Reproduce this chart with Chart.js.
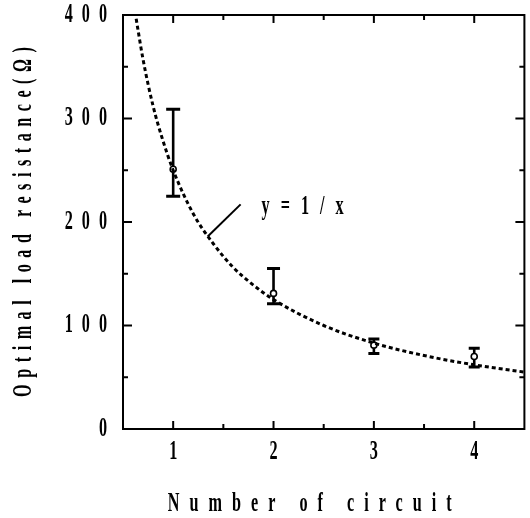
<!DOCTYPE html>
<html><head><meta charset="utf-8">
<script src="https://cdn.jsdelivr.net/npm/chart.js@4"></script>
<style>html,body{margin:0;padding:0;background:#fff}#wrap{width:530px;height:518px}</style>
</head><body><div id="wrap"><canvas id="c"></canvas></div>
<script>
const circuits = [1, 2, 3, 4];
const resistance = [251, 131, 81, 70];
const errLow = [225, 121, 73, 60];
const errHigh = [309, 155, 87, 78];
const fitX = [0.62, 0.7, 0.8, 0.9, 1.0, 1.2, 1.4, 1.6, 1.8, 2.0, 2.5, 3.0, 3.5, 4.0, 4.5];
const fitY = [403, 357, 312, 278, 250, 208, 179, 156, 139, 125, 100, 83, 71, 62, 55];
const xTickLabels = ['1', '2', '3', '4'];
const yTickLabels = ['0', '100', '200', '300', '400'];
const fitLabel = 'y = 1 / x';
const xTitle = 'Number of circuit';
const yTitle = 'Optimal load resistance(Ω)';

const FAM = "'Liberation Serif','DejaVu Serif',serif";
const tickFont = {family: FAM, size: 27, weight: 'bold', lineHeight: 1};
const titleFont = {family: FAM, size: 27, weight: 'bold', lineHeight: 1};

// condensed, letter-spaced typewriter look of the original lettering
const SX = 0.6;
function textStyle(t) {
  if (t === xTitle) return {sp: 10, dx: -14};
  if (t === yTitle) return {sp: 6.5, dx: 0};
  if (t === fitLabel) return {sp: 3.5, dx: 0};
  if (yTickLabels.includes(t) && t.length > 1) return {sp: 9, dx: 0};
  return {sp: 0, dx: 0};
}
function patchCtx(ctx) {
  if (ctx.__patched) return;
  const orig = ctx.fillText;
  ctx.fillText = function (text, x, y) {
    const st = textStyle(String(text));
    const a = this.textAlign;
    const shift = (a === 'right' || a === 'end') ? st.sp : (a === 'center' ? st.sp / 2 : 0);
    this.save();
    this.translate(x + shift + st.dx, y);
    this.scale(SX, 1);
    if (st.sp && 'letterSpacing' in this) this.letterSpacing = (st.sp / SX) + 'px';
    orig.call(this, text, 0, 0);
    this.restore();
  };
  ctx.__patched = true;
}

const overlay = {
  id: 'overlay',
  beforeDraw(chart) { patchCtx(chart.ctx); },
  afterDatasetsDraw(chart) {
    const ctx = chart.ctx, xs = chart.scales.x, ys = chart.scales.y;
    ctx.save();
    ctx.strokeStyle = '#000';
    ctx.lineCap = 'butt';
    const caps = [7, 6.5, 5.5, 5.5];
    circuits.forEach((c, i) => {
      const px = xs.getPixelForValue(c);
      const yl = ys.getPixelForValue(errLow[i]);
      const yh = ys.getPixelForValue(errHigh[i]);
      const yc = ys.getPixelForValue(resistance[i]);
      ctx.lineWidth = 2.6;
      ctx.beginPath();
      ctx.moveTo(px, yh); ctx.lineTo(px, yc - 3);
      ctx.moveTo(px, yc + 3); ctx.lineTo(px, yl);
      ctx.stroke();
      ctx.lineWidth = 3;
      ctx.beginPath();
      ctx.moveTo(px - caps[i], yh); ctx.lineTo(px + caps[i], yh);
      ctx.moveTo(px - caps[i], yl); ctx.lineTo(px + caps[i], yl);
      ctx.stroke();
    });
    ctx.lineWidth = 2;
    ctx.beginPath();
    ctx.moveTo(xs.getPixelForValue(1.344), ys.getPixelForValue(186));
    ctx.lineTo(xs.getPixelForValue(1.672), ys.getPixelForValue(217));
    ctx.stroke();
    ctx.fillStyle = '#000';
    ctx.font = "bold 27px " + FAM;
    ctx.textAlign = 'left';
    ctx.textBaseline = 'middle';
    ctx.fillText(fitLabel, xs.getPixelForValue(1.88), ys.getPixelForValue(214));
    ctx.restore();
  },
  afterDraw(chart) {
    const ctx = chart.ctx, xs = chart.scales.x, ys = chart.scales.y;
    const a = chart.chartArea;
    ctx.save();
    ctx.strokeStyle = '#000';
    ctx.lineWidth = 2;
    ctx.strokeRect(a.left, a.top, a.right - a.left, a.bottom - a.top);
    ctx.beginPath();
    xs.ticks.forEach(t => {
      if (t.value <= xs.min || t.value >= xs.max) return;
      const px = xs.getPixelForValue(t.value);
      const len = Number.isInteger(t.value) ? 8 : 5;
      ctx.moveTo(px, a.bottom); ctx.lineTo(px, a.bottom - len);
      ctx.moveTo(px, a.top); ctx.lineTo(px, a.top + len);
    });
    ys.ticks.forEach(t => {
      if (t.value <= ys.min || t.value >= ys.max) return;
      const py = ys.getPixelForValue(t.value);
      const len = t.value % 100 === 0 ? 9 : 5;
      ctx.moveTo(a.left, py); ctx.lineTo(a.left + len, py);
      ctx.moveTo(a.right, py); ctx.lineTo(a.right - len, py);
    });
    ctx.stroke();
    ctx.restore();
  }
};

new Chart(document.getElementById('c'), {
  type: 'scatter',
  data: {
    datasets: [
      {
        label: 'fit',
        data: fitX.map((x, i) => ({x, y: fitY[i]})),
        showLine: true,
        borderColor: '#000',
        borderWidth: 3,
        borderDash: [4, 3],
        pointRadius: 0,
        cubicInterpolationMode: 'monotone',
        fill: false
      },
      {
        label: 'measured',
        data: circuits.map((x, i) => ({x, y: resistance[i]})),
        pointRadius: 3,
        pointBorderWidth: 1.6,
        pointBorderColor: '#000',
        pointBackgroundColor: '#fff',
        showLine: false
      }
    ]
  },
  options: {
    responsive: true,
    maintainAspectRatio: false,
    animation: false,
    layout: {padding: {top: 15, right: 2, left: 0, bottom: 0}},
    plugins: {legend: {display: false}, tooltip: {enabled: false}},
    scales: {
      x: {
        type: 'linear', min: 0.5, max: 4.5,
        grid: {display: false, drawTicks: false},
        border: {display: false},
        ticks: {
          stepSize: 0.5, autoSkip: false, maxRotation: 0, color: '#000', font: tickFont, padding: 10,
          callback: v => { const i = circuits.indexOf(v); return i >= 0 ? xTickLabels[i] : ''; }
        },
        title: {display: true, text: xTitle, color: '#000', font: titleFont, padding: {top: 0, bottom: 0}},
        afterFit: s => { s.height = 89; s.paddingLeft = 0; s.paddingRight = 0; }
      },
      y: {
        min: 0, max: 400,
        grid: {display: false, drawTicks: false},
        border: {display: false},
        ticks: {
          stepSize: 50, autoSkip: false, color: '#000', font: tickFont, padding: 16,
          callback: v => (v % 100 === 0 ? yTickLabels[v / 100] : '')
        },
        title: {display: true, text: yTitle, color: '#000', font: titleFont, padding: {top: 11, bottom: 0}},
        afterFit: s => { s.width = 123; s.paddingTop = 0; s.paddingBottom = 0; }
      }
    }
  },
  plugins: [overlay]
});
</script></body></html>
